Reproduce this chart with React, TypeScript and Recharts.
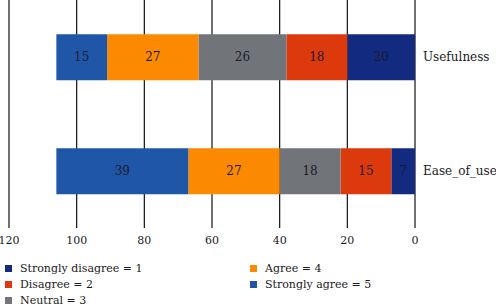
import React from "react";
import { BarChart, Bar, XAxis, YAxis, CartesianGrid, Legend, LabelList } from "recharts";

const categories = ["Usefulness", "Ease_of_use"];
const stronglyDisagree = [20, 7];
const disagree = [18, 15];
const neutral = [26, 18];
const agree = [27, 27];
const stronglyAgree = [15, 39];
const xTicks = [0, 20, 40, 60, 80, 100, 120];

const seriesDefs = [
  { key: "sd", name: "Strongly disagree = 1", values: stronglyDisagree, color: "#122b80" },
  { key: "d", name: "Disagree = 2", values: disagree, color: "#dc3a0c" },
  { key: "n", name: "Neutral = 3", values: neutral, color: "#717478" },
  { key: "a", name: "Agree = 4", values: agree, color: "#fb8a02" },
  { key: "sa", name: "Strongly agree = 5", values: stronglyAgree, color: "#1f56a8" },
];

const data = categories.map((c, i) => {
  const row: Record<string, string | number> = { name: c };
  seriesDefs.forEach((s) => {
    row[s.key] = s.values[i];
  });
  return row;
});

const FONT = "'DejaVu Serif', 'Liberation Serif', serif";

const legendColumns = [
  [seriesDefs[0], seriesDefs[1], seriesDefs[2]],
  [seriesDefs[3], seriesDefs[4]],
];

const renderLegend = () => (
  <div style={{ position: "relative", width: 496, height: 48, fontFamily: FONT, fontSize: 11, color: "#1a1a1a" }}>
    {legendColumns.map((col, ci) => (
      <div key={ci} style={{ position: "absolute", left: ci === 0 ? 5 : 250, top: 2 }}>
        {col.map((s) => (
          <div key={s.key} style={{ display: "flex", alignItems: "center", height: 16.2, lineHeight: "15px", whiteSpace: "nowrap" }}>
            <span style={{ display: "inline-block", width: 7, height: 7, background: s.color, marginRight: 8 }} />
            <span>{s.name}</span>
          </div>
        ))}
      </div>
    ))}
  </div>
);

export default function App() {
  return (
    <div style={{ position: "absolute", left: 0, top: 0, width: 496, height: 306, background: "#fff", fontFamily: FONT }}>
      <BarChart
        width={496}
        height={306}
        data={data}
        layout="vertical"
        margin={{ top: 0, right: 0, left: 9, bottom: 0 }}
        barCategoryGap="30%"
        style={{ fontFamily: FONT }}
      >
        <CartesianGrid horizontal={false} vertical={true} stroke="#111" strokeWidth={1.2} />
        <XAxis
          type="number"
          domain={[0, 120]}
          ticks={xTicks}
          reversed
          axisLine={false}
          tickLine={false}
          height={30}
          interval={0}
          tick={{ fontFamily: FONT, fontSize: 11, fill: "#1a1a1a" }}
        />
        <YAxis
          type="category"
          dataKey="name"
          orientation="right"
          width={81}
          axisLine={false}
          tickLine={false}
          tick={{ fontFamily: FONT, fontSize: 12, fill: "#1a1a1a" }}
        />
        <Legend
          verticalAlign="bottom"
          height={48}
          content={renderLegend}
          wrapperStyle={{ left: 0, width: 496 }}
        />
        {seriesDefs.map((s) => (
          <Bar key={s.key} dataKey={s.key} name={s.name} stackId="1" fill={s.color} isAnimationActive={false}>
            <LabelList
              dataKey={s.key}
              position="center"
              fontFamily={FONT}
              fontSize={12}
              fill="#1b1b2a"
            />
          </Bar>
        ))}
      </BarChart>
    </div>
  );
}
